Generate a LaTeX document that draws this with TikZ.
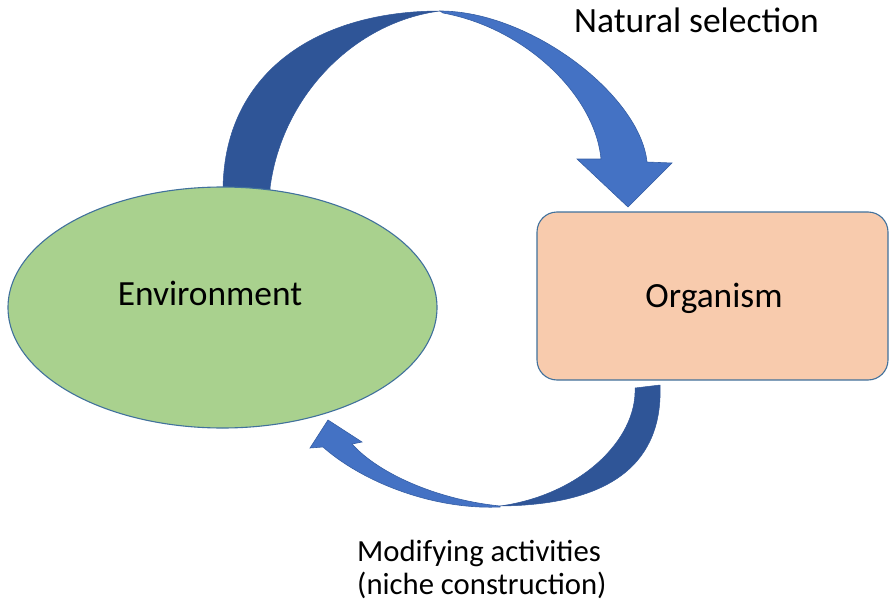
\documentclass[tikz,border=0pt]{standalone}
\usepackage{fontspec}
\setmainfont{Carlito}
\usetikzlibrary{shapes.geometric}

\definecolor{arrowdark}{RGB}{47,85,151}
\definecolor{arrowlight}{RGB}{68,114,196}
\definecolor{shapeline}{RGB}{65,113,156}
\definecolor{envfill}{RGB}{169,209,142}
\definecolor{orgfill}{RGB}{248,203,173}

\tikzset{
  backface/.style={fill=arrowdark, draw=arrowdark, line width=0.5pt, line join=round},
  frontface/.style={fill=arrowlight, draw=arrowdark!70!arrowlight, line width=0.6pt, line join=miter},
  shapebox/.style={draw=shapeline, line width=1.1pt, inner sep=0pt},
  bigtext/.style={inner sep=0pt, font=\fontsize{35.4}{42}\selectfont},
  captext/.style={inner sep=0pt, font=\fontsize{35.5}{42}\selectfont},
  notetext/.style={inner sep=0pt, font=\fontsize{30.7}{34}\selectfont},
}

\begin{document}
\begin{tikzpicture}[x=1pt, y=-1pt]
  \useasboundingbox (0,0) rectangle (889,602);

  % upper curved arrow: back face rising from the ellipse
  \path[backface] (223,200) -- (223,188)
      .. controls (225,70) and (320,11) .. (440,11)
      .. controls (355,22) and (282,95) .. (270,188) -- (270,200) -- cycle;
  % upper curved arrow: front face with the head
  \path[frontface] (440,11)
      .. controls (530,11) and (640,95) .. (647,162)
      -- (672,163) -- (628,207) -- (577,159) -- (601,159)
      .. controls (595,95) and (525,28) .. (443,13) -- cycle;

  % the two entities
  \node[shapebox, ellipse, fill=envfill, minimum width=429pt, minimum height=241pt]
      (env) at (222.5,307.5) {};
  \node[shapebox, rectangle, rounded corners=20pt, fill=orgfill,
        minimum width=351pt, minimum height=168pt]
      (org) at (712.5,296) {};

  \node[bigtext, anchor=base] (envtext) at (210,305) {Environment};
  \node[bigtext, anchor=base] (orgtext) at (714,307) {Organism};

  % lower curved arrow: back face leaving the organism
  \path[backface] (635,388)
      .. controls (637,440) and (580,495) .. (500,506)
      .. controls (615,505) and (663,460) .. (660,385) -- cycle;
  % lower curved arrow: front face with the head
  \path[frontface] (500,506)
      .. controls (440,500) and (380,475) .. (352,444)
      -- (362,442) -- (328,420) -- (310,448) -- (323,447)
      .. controls (360,480) and (430,510) .. (500,507) -- cycle;

  % arrow captions
  \node[captext, anchor=base west] (nstext) at (574,33) {Natural selection};
  \node[notetext, anchor=base west] (modtext) at (357,561) {Modifying activities};
  \node[notetext, anchor=base west] (nichetext) at (357,594) {(niche construction)};
\end{tikzpicture}
\end{document}
